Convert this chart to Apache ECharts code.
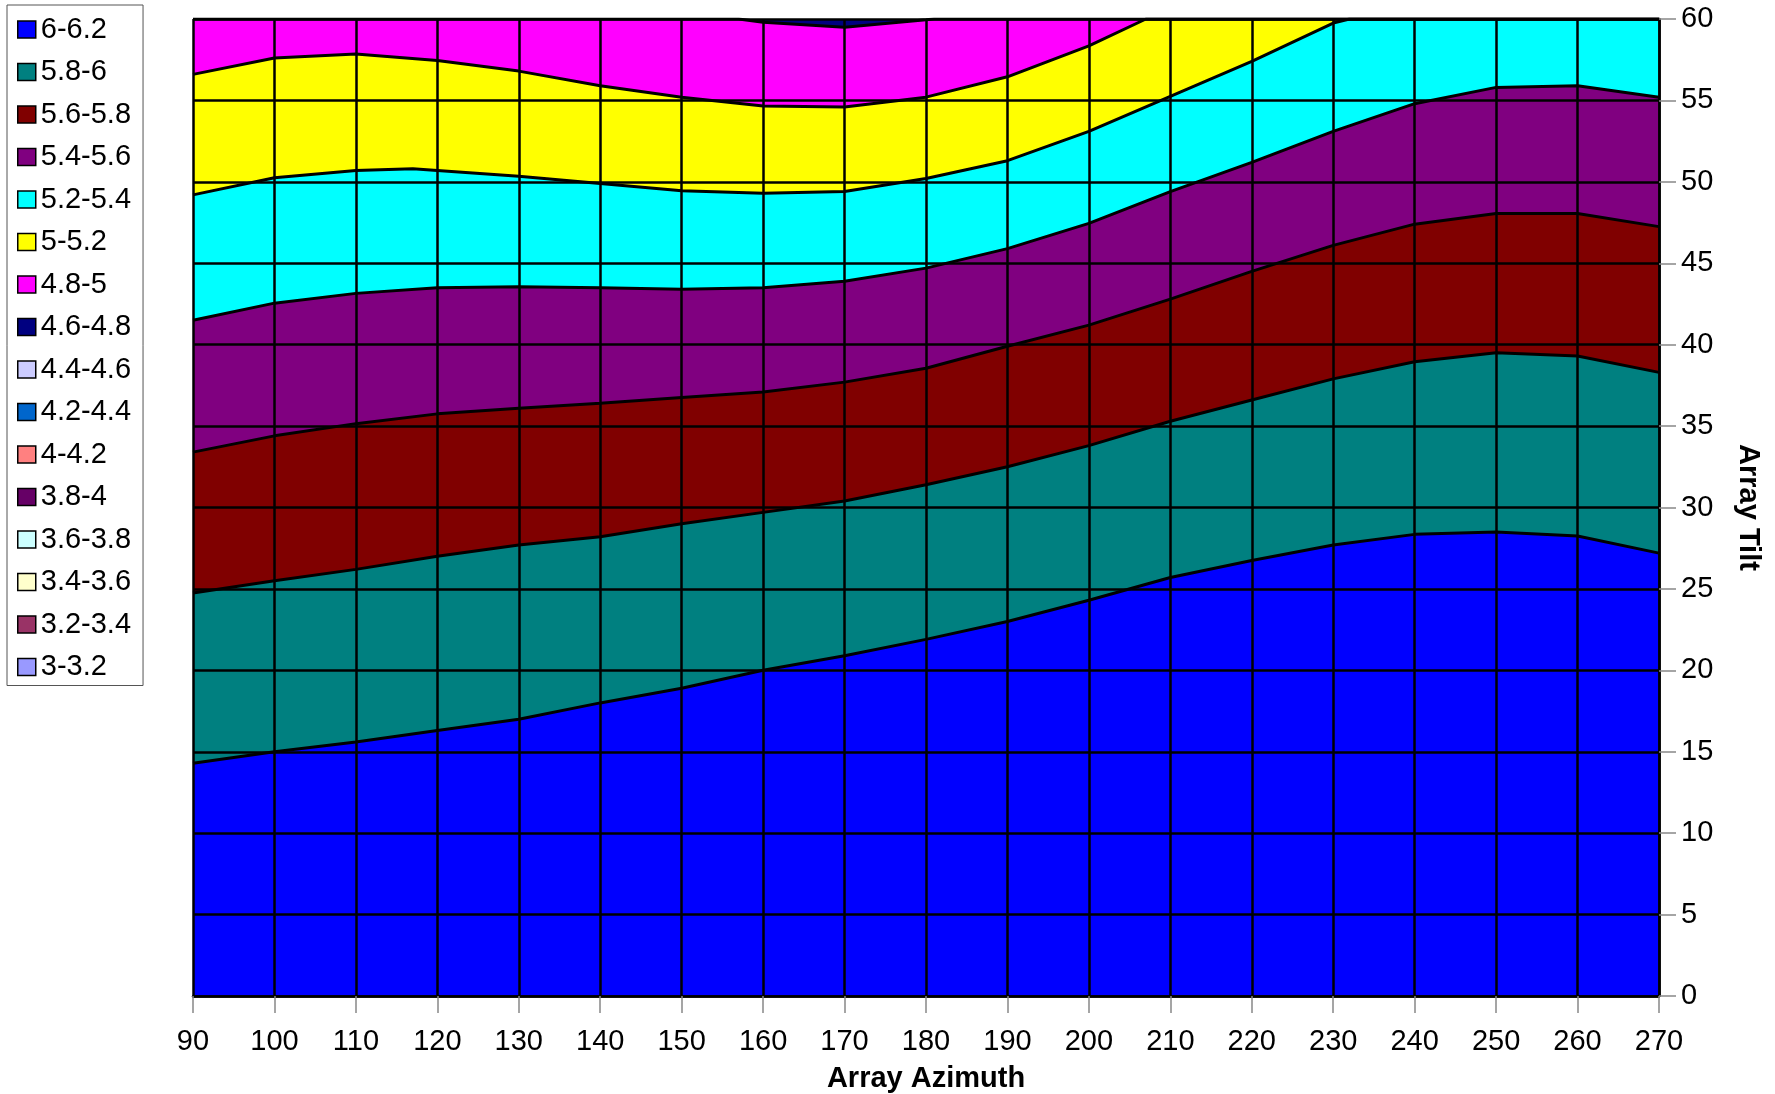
<!DOCTYPE html>
<html>
<head>
<meta charset="utf-8">
<title>Array Tilt vs Array Azimuth</title>
<script src="https://cdn.jsdelivr.net/npm/echarts@6/dist/echarts.min.js"></script>
<style>
  html, body { margin: 0; padding: 0; background: #fff; }
  #chart { width: 1775px; height: 1094px; }
</style>
</head>
<body>
<div id="chart"></div>
<script>
// legend order (highest band first) and Excel contour colours
var bands = ["6-6.2", "5.8-6", "5.6-5.8", "5.4-5.6", "5.2-5.4", "5-5.2", "4.8-5", "4.6-4.8",
  "4.4-4.6", "4.2-4.4", "4-4.2", "3.8-4", "3.6-3.8", "3.4-3.6", "3.2-3.4", "3-3.2"];
var bandColors = ["#0000ff", "#008080", "#800000", "#800080", "#00ffff", "#ffff00", "#ff00ff", "#000080",
  "#ccccff", "#0066cc", "#ff8080", "#660066", "#ccffff", "#ffffcc", "#993366", "#9999ff"];

var azimuth = [90, 100, 110, 120, 130, 140, 150, 160, 170, 180, 190, 200, 210, 220, 230, 240, 250, 260, 270];

// upper edge (tilt) of each band at every azimuth
var top6_62 = [14.3, 15.0, 15.6, 16.3, 17.0, 18.0, 18.9, 20.0, 20.9, 21.9, 23.0, 24.3, 25.7, 26.75, 27.7, 28.35, 28.5, 28.25, 27.2];
var top58_6 = [24.75, 25.5, 26.2, 27.0, 27.7, 28.2, 29.0, 29.7, 30.4, 31.4, 32.5, 33.8, 35.3, 36.6, 37.9, 38.95, 39.5, 39.3, 38.3];
var top56_58 = [33.4, 34.4, 35.15, 35.75, 36.1, 36.4, 36.75, 37.1, 37.7, 38.55, 39.9, 41.2, 42.8, 44.5, 46.1, 47.4, 48.05, 48.05, 47.25];
var top54_56 = [41.5, 42.55, 43.15, 43.5, 43.55, 43.5, 43.4, 43.5, 43.9, 44.7, 45.9, 47.45, 49.4, 51.2, 53.1, 54.8, 55.8, 55.9, 55.2];

// these run into the top of the chart, so they carry their own azimuths
var top52_54 = [[90, 49.2], [100, 50.25], [110, 50.7], [117, 50.8], [120, 50.7], [130, 50.35], [140, 49.9], [150, 49.45],
  [160, 49.3], [170, 49.4], [180, 50.2], [190, 51.3], [200, 53.1], [210, 55.25], [220, 57.4], [230, 59.75], [232, 60], [270, 60]];
var top5_52 = [[90, 56.6], [100, 57.6], [110, 57.85], [120, 57.45], [130, 56.8], [140, 55.9], [150, 55.2], [160, 54.65],
  [170, 54.6], [180, 55.2], [190, 56.45], [200, 58.35], [207, 60], [270, 60]];
var top48_5 = [[90, 60], [157, 60], [160, 59.8], [170, 59.5], [180, 59.95], [181, 60], [270, 60]];
var top46_48 = [[90, 60], [270, 60]];

function zip(xs, ys) {
  return xs.map(function (x, i) { return [x, ys[i]]; });
}

var edges = {
  "6-6.2": zip(azimuth, top6_62),
  "5.8-6": zip(azimuth, top58_6),
  "5.6-5.8": zip(azimuth, top56_58),
  "5.4-5.6": zip(azimuth, top54_56),
  "5.2-5.4": top52_54,
  "5-5.2": top5_52,
  "4.8-5": top48_5,
  "4.6-4.8": top46_48
};

var font = "Liberation Sans";

// each band is filled from its upper edge down to 0; draw the top bands first
var series = [];
for (var i = bands.length - 1; i >= 0; i--) {
  var name = bands[i];
  series.push({
    name: name,
    type: "line",
    data: edges[name] || [],
    color: bandColors[i],
    showSymbol: false,
    symbol: "none",
    z: 2,
    lineStyle: { color: "#000", width: name === "4.6-4.8" ? 0 : 3 },
    areaStyle: { color: bandColors[i], opacity: 1 },
    emphasis: { disabled: true },
    silent: true
  });
}

var option = {
  animation: false,
  backgroundColor: "#fff",
  legend: {
    orient: "vertical",
    left: 7,
    top: 5,
    padding: [10, 12, 4, 10],
    borderColor: "#555",
    borderWidth: 1,
    backgroundColor: "#fff",
    icon: "rect",
    itemWidth: 18,
    itemHeight: 17,
    itemGap: 13.5,
    selectedMode: false,
    textStyle: { fontFamily: font, fontSize: 29, color: "#000" },
    data: bands.map(function (b, i) {
      return { name: b, itemStyle: { color: bandColors[i], borderColor: "#000", borderWidth: 1.5 } };
    })
  },
  grid: { left: 193, right: 116, top: 19, bottom: 98, outerBoundsMode: "none" },
  xAxis: {
    type: "value",
    min: 90,
    max: 270,
    interval: 10,
    z: 5,
    name: "Array Azimuth",
    nameLocation: "middle",
    nameGap: 68,
    nameTextStyle: { fontFamily: font, fontSize: 29, fontWeight: "bold", color: "#000" },
    axisLine: { show: true, lineStyle: { color: "#000", width: 2.5 } },
    axisTick: { show: true, length: 17, lineStyle: { color: "#888", width: 1.5 } },
    axisLabel: { fontFamily: font, fontSize: 29, color: "#000", margin: 31 },
    splitLine: { show: true, lineStyle: { color: "#000", width: 2.5 } }
  },
  yAxis: {
    type: "value",
    position: "right",
    min: 0,
    max: 60,
    interval: 5,
    z: 5,
    name: "Array Tilt",
    nameLocation: "middle",
    nameRotate: -90,
    nameGap: 74,
    nameTextStyle: { fontFamily: font, fontSize: 29, fontWeight: "bold", color: "#000" },
    axisLine: { show: true, lineStyle: { color: "#000", width: 2.5 } },
    axisTick: { show: true, length: 17, lineStyle: { color: "#888", width: 1.5 } },
    axisLabel: { fontFamily: font, fontSize: 29, color: "#000", margin: 22 },
    splitLine: { show: true, lineStyle: { color: "#000", width: 2.5 } }
  },
  series: series
};

var chart = echarts.init(document.getElementById("chart"));
chart.setOption(option);
</script>
</body>
</html>
